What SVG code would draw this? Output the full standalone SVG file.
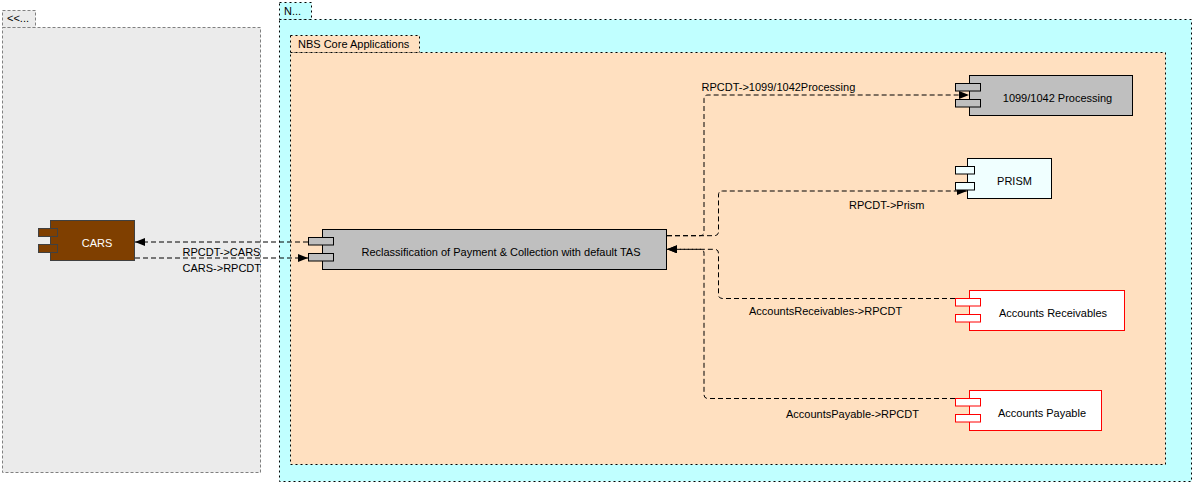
<svg xmlns="http://www.w3.org/2000/svg" width="1196" height="485" viewBox="0 0 1196 485">
<style>
text{font-family:"Liberation Sans",Arial,sans-serif;font-size:11px;fill:#000}
.c{text-anchor:middle}
.pkgG{fill:#EBEBEB;stroke:#808080;stroke-dasharray:3,2}
.pkgN{fill:#C0FFFF;stroke:#000;stroke-dasharray:2,3}
.pkgB{fill:#FFE0C0;stroke:#000;stroke-dasharray:2,3}
.edge{fill:none;stroke:#000;stroke-dasharray:5,3}
</style>
<defs>
<marker id="arr" viewBox="0 0 10 8" refX="10" refY="4" markerWidth="10" markerHeight="8" markerUnits="userSpaceOnUse" orient="auto">
<path d="M0,0 L10,4 L0,8 z" fill="#000"/>
</marker>
</defs>
<rect width="1196" height="485" fill="#fff"/>
<g id="pkg-left">
<rect class="pkgG" x="2.5" y="10.5" width="33" height="17"/>
<rect class="pkgG" x="2.5" y="27.5" width="258" height="445"/>
<text x="7" y="22">&lt;&lt;...</text>
</g>
<g id="pkg-N">
<rect class="pkgN" x="279.5" y="2.5" width="32" height="17"/>
<rect class="pkgN" x="279.5" y="19.5" width="912" height="462"/>
<text x="284" y="15">N...</text>
</g>
<g id="pkg-NBS">
<rect class="pkgB" x="290.5" y="35.5" width="129" height="17"/>
<rect class="pkgB" x="290.5" y="52.5" width="875" height="412"/>
<text x="298" y="48">NBS Core Applications</text>
</g>
<g id="connectors">
<path class="edge" d="M308,242 L135,242" marker-end="url(#arr)"/>
<path class="edge" d="M135,258 L308,258" marker-end="url(#arr)"/>
<path class="edge" d="M667,235.7 L700,235.7 Q704,235.7 704,231.7 L704,99 Q704,95 708,95 L969,95" marker-end="url(#arr)"/>
<path class="edge" d="M667,235.7 L714,235.7 Q718.5,235.7 718.5,231.7 L718.5,195 Q718.5,191 722.5,191 L967,191" marker-end="url(#arr)"/>
<path class="edge" d="M955,298.5 L722.5,298.5 Q718.5,298.5 718.5,294.5 L718.5,253.3 Q718.5,249.3 714.5,249.3 L667,249.3" marker-end="url(#arr)"/>
<path class="edge" d="M955,398.5 L708,398.5 Q704,398.5 704,394.5 L704,253.3 Q704,249.3 700,249.3 L667,249.3" marker-end="url(#arr)"/>
<text x="182.5" y="256">RPCDT-&gt;CARS</text>
<text x="182.5" y="272">CARS-&gt;RPCDT</text>
<text x="701.5" y="91">RPCDT-&gt;1099/1042Processing</text>
<text x="849" y="209">RPCDT-&gt;Prism</text>
<text x="749" y="315">AccountsReceivables-&gt;RPCDT</text>
<text x="786" y="418">AccountsPayable-&gt;RPCDT</text>
</g>
<g id="node-cars">
<rect x="50.5" y="220.5" width="84" height="40" fill="#7F3F00" stroke="#404040"/>
<rect x="38.5" y="228.5" width="19" height="8" fill="#7F3F00" stroke="#404040"/>
<rect x="38.5" y="244.5" width="19" height="8" fill="#7F3F00" stroke="#404040"/>
<text class="c" x="97" y="246.5" style="fill:#fff">CARS</text>
</g>
<g id="node-main">
<rect x="322.5" y="229.5" width="344" height="40" fill="#BFBFBF" stroke="#000"/>
<rect x="308.5" y="237.5" width="25" height="7.5" fill="#BFBFBF" stroke="#000"/>
<rect x="308.5" y="253.5" width="25" height="7.5" fill="#BFBFBF" stroke="#000"/>
<text class="c" x="501" y="256">Reclassification of Payment &amp; Collection with default TAS</text>
</g>
<g id="node-1099">
<rect x="969.5" y="75.5" width="163" height="40" fill="#BFBFBF" stroke="#000"/>
<rect x="955.5" y="83.5" width="25" height="7.5" fill="#BFBFBF" stroke="#000"/>
<rect x="955.5" y="99.5" width="25" height="7.5" fill="#BFBFBF" stroke="#000"/>
<text class="c" x="1057.5" y="102">1099/1042 Processing</text>
</g>
<g id="node-prism">
<rect x="967.5" y="158.5" width="84" height="40" fill="#F0FFFF" stroke="#000"/>
<rect x="955.5" y="166.5" width="19" height="7.5" fill="#F0FFFF" stroke="#000"/>
<rect x="955.5" y="182.5" width="19" height="7.5" fill="#F0FFFF" stroke="#000"/>
<text class="c" x="1014.5" y="184.5">PRISM</text>
</g>
<g id="node-ar">
<rect x="969.5" y="290.5" width="155" height="40" fill="#fff" stroke="#f00"/>
<rect x="955.5" y="298.5" width="25" height="7.5" fill="#fff" stroke="#f00"/>
<rect x="955.5" y="314.5" width="25" height="7.5" fill="#fff" stroke="#f00"/>
<text class="c" x="1053" y="317">Accounts Receivables</text>
</g>
<g id="node-ap">
<rect x="969.5" y="390.5" width="132" height="40" fill="#fff" stroke="#f00"/>
<rect x="955.5" y="398.5" width="25" height="7.5" fill="#fff" stroke="#f00"/>
<rect x="955.5" y="414.5" width="25" height="7.5" fill="#fff" stroke="#f00"/>
<text class="c" x="1042" y="417">Accounts Payable</text>
</g>
</svg>
